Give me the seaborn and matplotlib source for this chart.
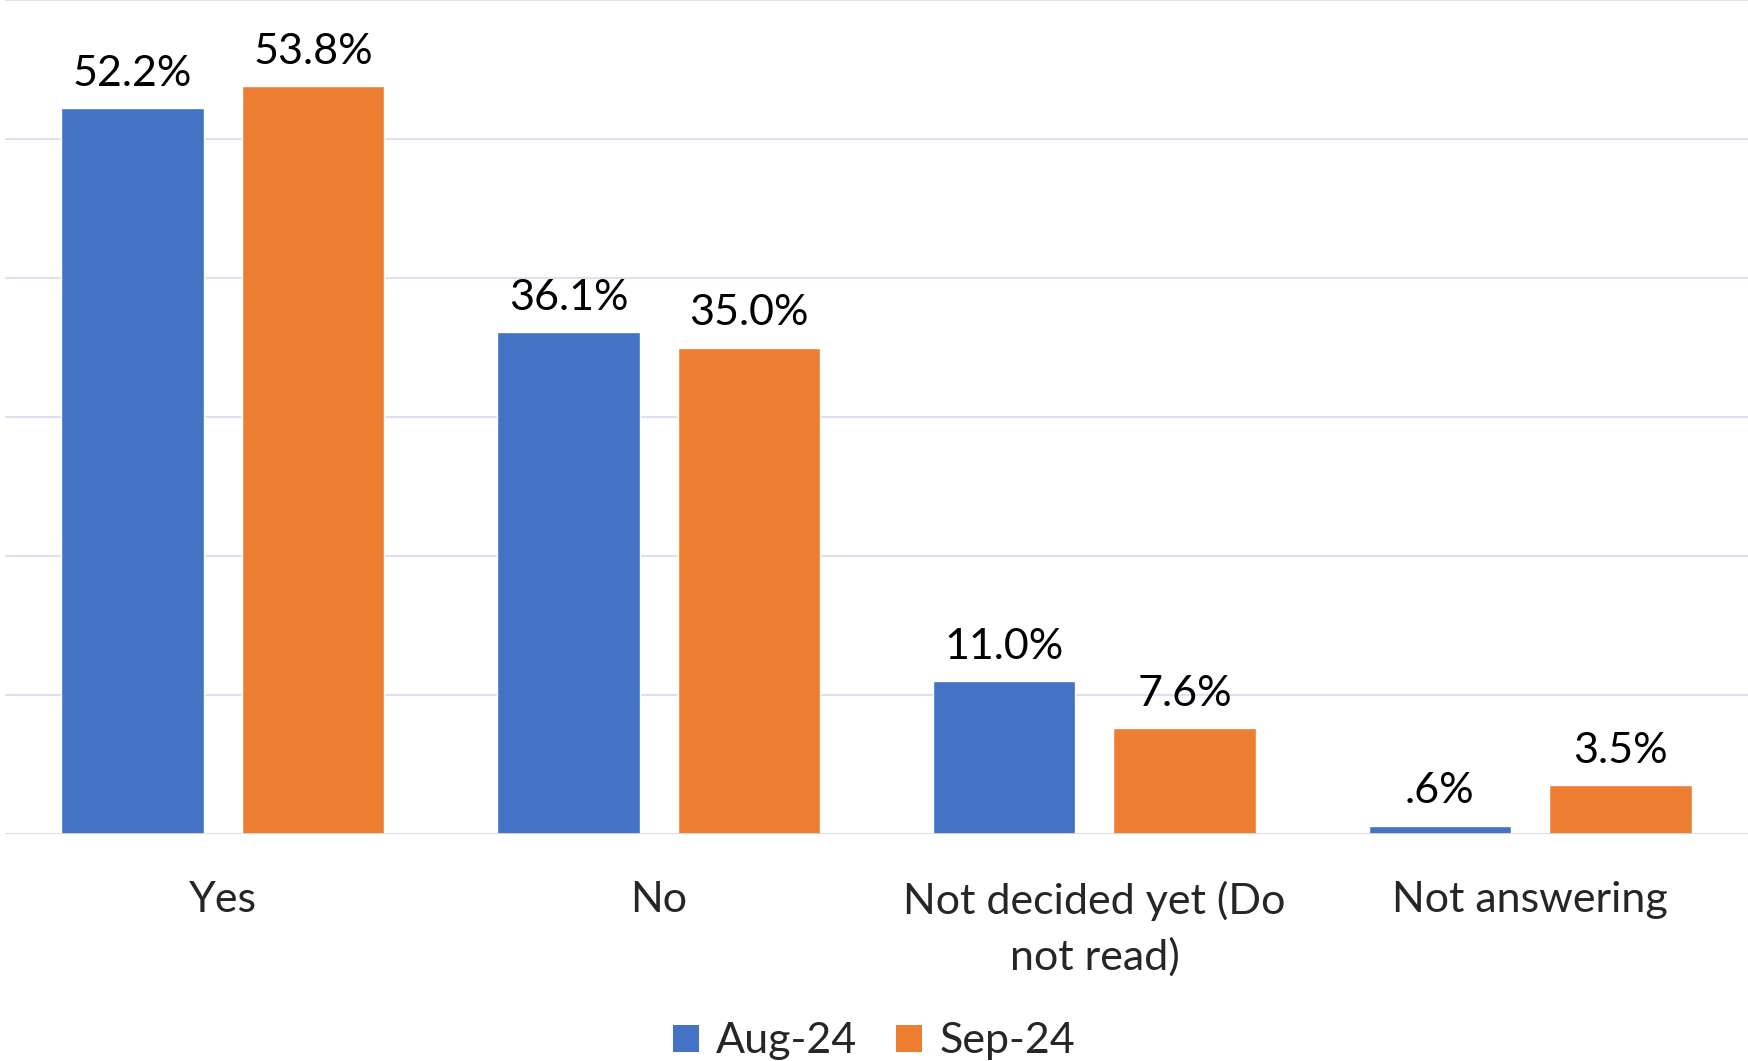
import matplotlib
matplotlib.use("Agg")
import matplotlib.pyplot as plt
from matplotlib.patches import Patch
import seaborn as sns
import pandas as pd

categories = ["Yes", "No", "Not decided yet (Do\nnot read)", "Not answering"]
series_names = ["Aug-24", "Sep-24"]
aug_values = [52.2, 36.1, 11.0, 0.6]
sep_values = [53.8, 35.0, 7.6, 3.5]
colors = ["#4472C4", "#ED7D31"]

df = pd.DataFrame({
    "category": categories * 2,
    "series": [series_names[0]] * 4 + [series_names[1]] * 4,
    "value": aug_values + sep_values,
})

sns.set_style("white")
plt.rcParams["font.family"] = ["Lato", "DejaVu Sans"]

W, H = 1748, 1061
fig = plt.figure(figsize=(W / 100, H / 100), dpi=100)
ax = fig.add_axes([5 / W, (H - 834) / H, 1743 / W, 834 / H])

sns.barplot(data=df, x="category", y="value", hue="series", order=categories,
            hue_order=series_names, palette=colors, width=0.828, gap=0.21,
            saturation=1, legend=False, ax=ax, errorbar=None)

ax.set_ylim(0, 60)
ax.set_xlim(-0.5, 3.5)
ax.set_yticks([10, 20, 30, 40, 50, 60])
ax.yaxis.grid(True, color="#D9E1F2", linewidth=1.5)
ax.set_axisbelow(True)
ax.axhline(0, color="#D9D9D9", linewidth=2, zorder=3)
for s in ax.spines.values():
    s.set_visible(False)
ax.tick_params(axis="y", left=False, labelleft=False)
ax.tick_params(axis="x", bottom=False, pad=30, labelsize=31)
for lbl in ax.get_xticklabels():
    lbl.set_linespacing(1.5)
ax.set_xlabel("")
ax.set_ylabel("")

def fmt(v):
    s = f"{v:.1f}%"
    return s[1:] if s.startswith("0") else s

for cont, vals in zip(ax.containers, [aug_values, sep_values]):
    ax.bar_label(cont, labels=[fmt(v) for v in vals], padding=11,
                 fontsize=31, color="black", clip_on=False)

handles = [Patch(facecolor=c, edgecolor="none", label=n) for c, n in zip(colors, series_names)]
fig.legend(handles=handles, loc="lower center", bbox_to_anchor=(0.5, -0.036), ncol=2,
           frameon=False, fontsize=31, handlelength=0.6, handleheight=0.6,
           handletextpad=0.4, columnspacing=0.9)

fig.savefig("out.png", dpi=100, facecolor="white")
